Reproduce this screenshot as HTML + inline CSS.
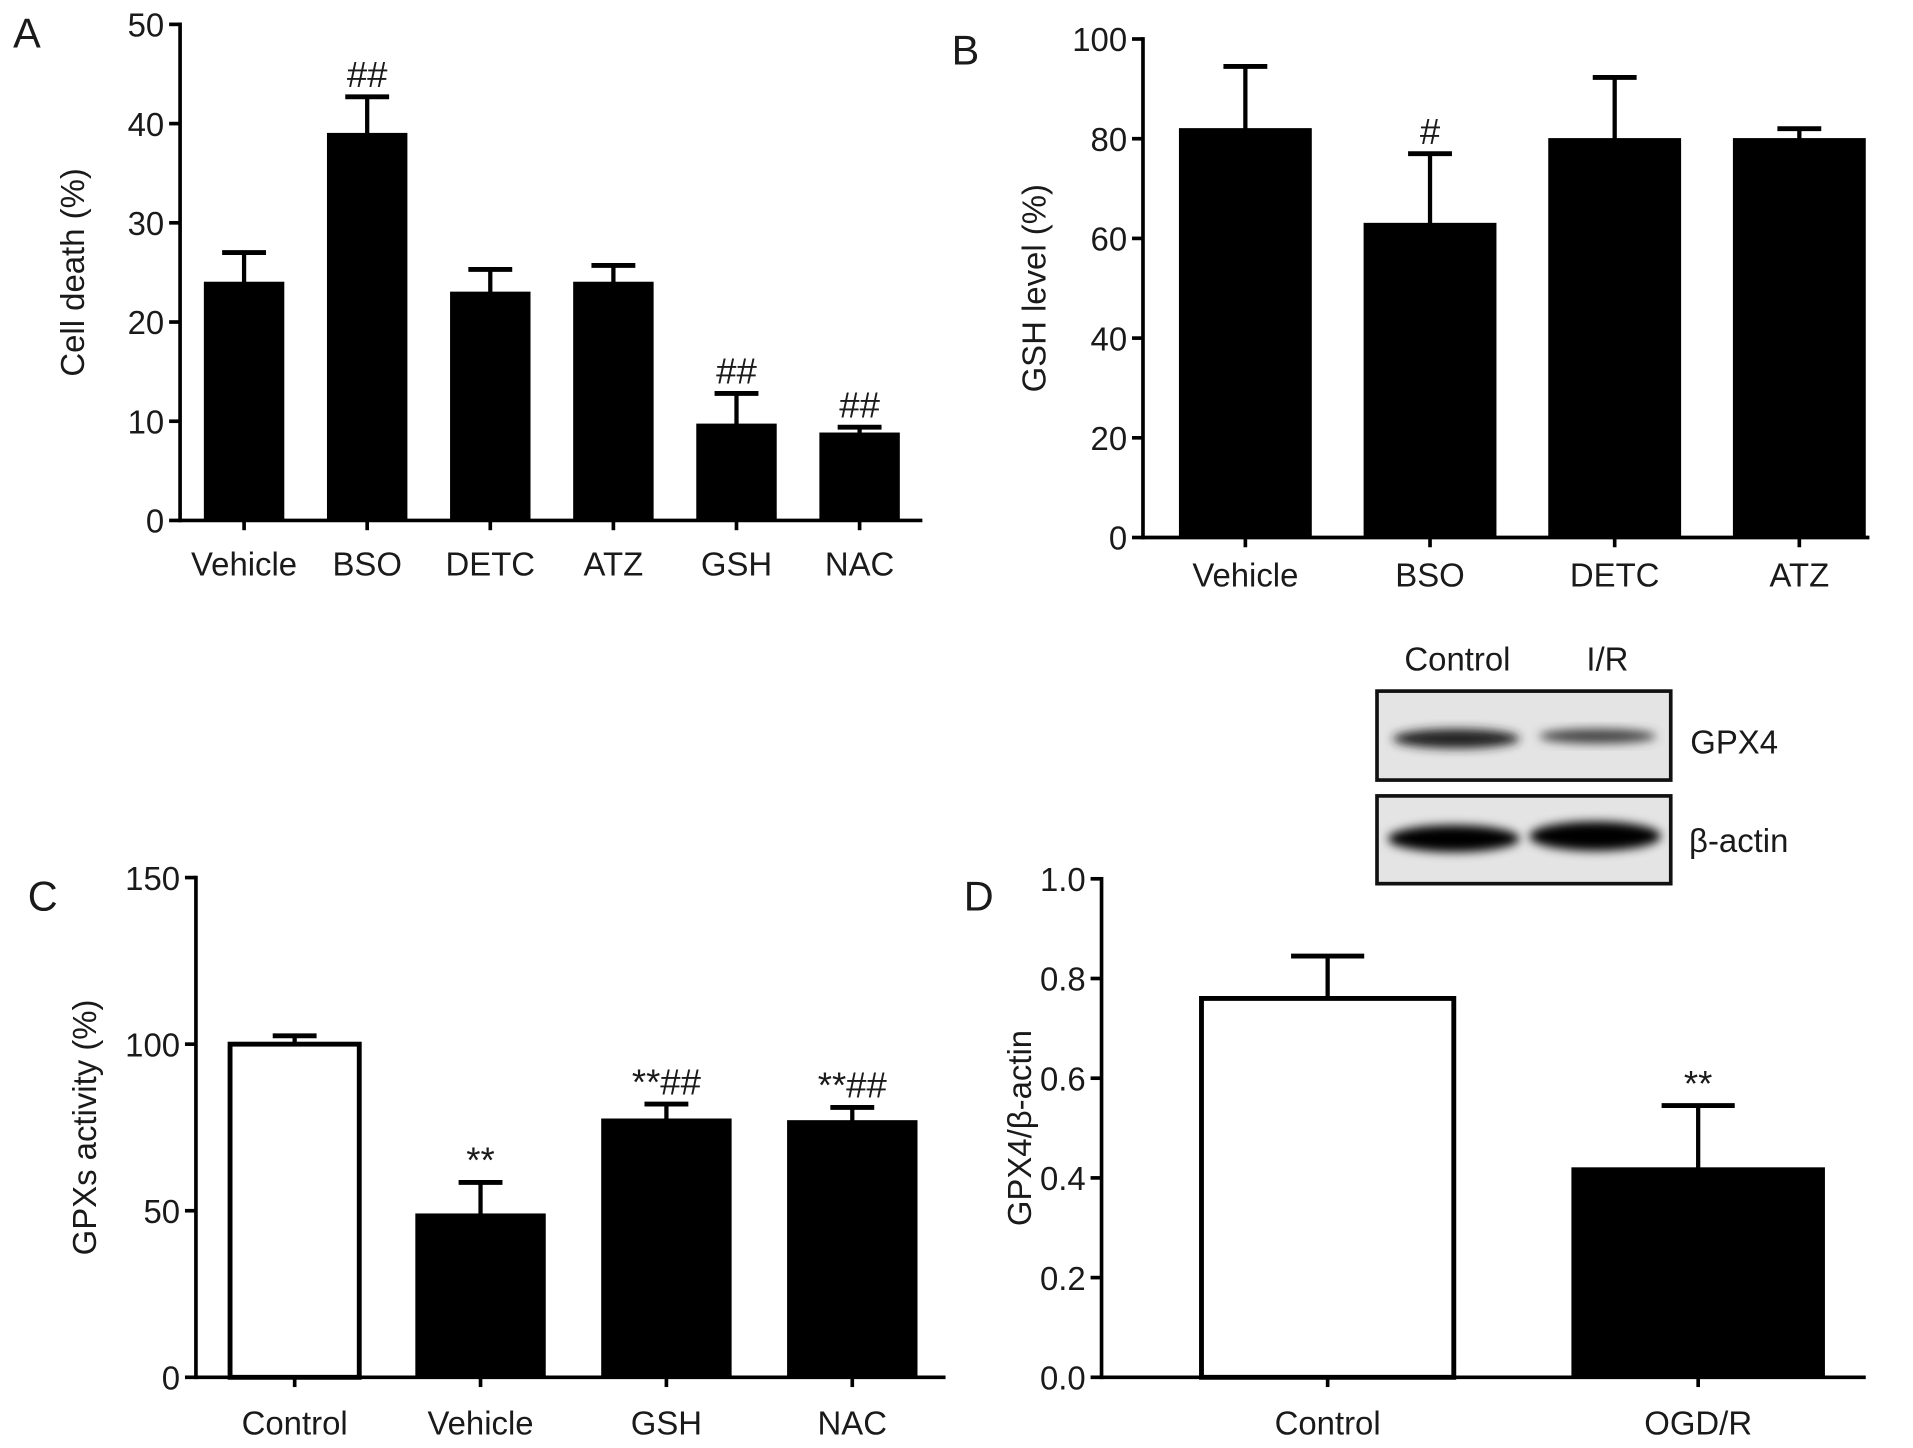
<!DOCTYPE html>
<html><head><meta charset="utf-8"><style>
html,body{margin:0;padding:0;background:#fff}
svg{display:block}
text{font-family:"Liberation Sans",sans-serif;fill:#1a1a1a}
</style></head><body>
<svg id="fig" width="1913" height="1448" viewBox="0 0 1568 1188" xmlns="http://www.w3.org/2000/svg">
<defs>
<filter id="blur" x="-20%" y="-50%" width="140%" height="200%"><feGaussianBlur stdDeviation="4"/></filter>
</defs>
<g>
<text x="1195" y="550" font-size="27" text-anchor="middle">Control</text>
<text x="1318" y="550" font-size="27" text-anchor="middle">I/R</text>
<rect x="1129" y="567" width="241" height="73" fill="#e4e4e4" stroke="#111" stroke-width="3"/>
<ellipse cx="1194" cy="606" rx="52" ry="8" fill="#222" filter="url(#blur)"/>
<ellipse cx="1310" cy="604" rx="48" ry="6" fill="#444" filter="url(#blur)"/>
<rect x="1129" y="653" width="241" height="72" fill="#e4e4e4" stroke="#111" stroke-width="3"/>
<ellipse cx="1192" cy="688" rx="54" ry="11" fill="#000" filter="url(#blur)"/>
<ellipse cx="1308" cy="686" rx="54" ry="12" fill="#000" filter="url(#blur)"/>
<text x="1386" y="618" font-size="27">GPX4</text>
<text x="1385" y="699" font-size="27">β-actin</text>
</g>
</svg>
<script>
// Panel A
const catsA = ["Vehicle","BSO","DETC","ATZ","GSH","NAC"];
const valsA = [24,39,23,24,9.7,8.8];
const errA = [27,42.7,25.3,25.7,12.8,9.4];
const markA = ["","##","","","##","##"];
const ticksA = [0,10,20,30,40,50];
// Panel B
const catsB = ["Vehicle","BSO","DETC","ATZ"];
const valsB = [82,63,80,80];
const errB = [94.5,77,92.3,82];
const markB = ["","#","",""];
const ticksB = [0,20,40,60,80,100];
// Panel C
const catsC = ["Control","Vehicle","GSH","NAC"];
const valsC = [100,49,77.5,77];
const errC = [102.5,58.5,82,81];
const markC = ["","**","**##","**##"];
const ticksC = [0,50,100,150];
// Panel D
const catsD = ["Control","OGD/R"];
const valsD = [0.76,0.42];
const errD = [0.845,0.545];
const markD = ["","**"];
const ticksD = [0,0.2,0.4,0.6,0.8,1.0];

const NS="http://www.w3.org/2000/svg";
const svg=document.getElementById('fig');
function mk(tag,attrs,parent){const e=document.createElementNS(NS,tag);for(const k in attrs)e.setAttribute(k,attrs[k]);(parent||svg).appendChild(e);return e;}

function panel(p){
  const g=mk('g',{});
  
  
  const y=v=>p.y0-(v-p.min)/(p.max-p.min)*(p.y0-p.y1);
  const x=i=>p.barL+i*p.step;
  p.cats.forEach((c,i)=>{
    const xl=x(i), top=y(p.vals[i]), ey=y(p.errs[i]), cx=xl+p.bw/2;
    const eb=mk('line',{x1:cx,x2:cx,y1:top,y2:ey,stroke:'#000','stroke-width':3.5},g);
    
    
    const cap=mk('line',{x1:cx-p.cap,x2:cx+p.cap,y1:ey,y2:ey,stroke:'#000','stroke-width':4},g);
    
    
    const white=p.white&&p.white[i];
    const r=mk('rect',{x:xl,y:top,width:p.bw,height:p.y0-top,fill:white?'#fff':'#000',stroke:'#000','stroke-width':white?4:1},g);
    
    
    const t=mk('text',{x:cx,y:p.labY,'font-size':27,'text-anchor':'middle'},g);t.textContent=c;
    
    
    const tk=mk('line',{x1:cx,x2:cx,y1:p.y0,y2:p.y0+8,stroke:'#000','stroke-width':3},g);
    
    
    if(p.marks[i]){
      const m=mk('text',{x:cx+(p.markDx||0),y:ey-8,'font-size':p.markSize||30,'text-anchor':'middle','font-family':'Liberation Serif, serif'},g);m.textContent=p.marks[i];
      
      
    }
  });
  const ya=mk('line',{x1:p.ax,x2:p.ax,y1:p.y1-1.5,y2:p.y0+1.5,stroke:'#000','stroke-width':3},g);
  
  
  const xa=mk('line',{x1:p.ax,x2:p.xEnd,y1:p.y0,y2:p.y0,stroke:'#000','stroke-width':3},g);
  
  
  p.ticks.forEach(v=>{
    const tl=mk('line',{x1:p.ax-9,x2:p.ax,y1:y(v),y2:y(v),stroke:'#000','stroke-width':3},g);
    
    
    const t=mk('text',{x:p.ax-13,y:y(v)+10,'font-size':27,'text-anchor':'end'},g);t.textContent=p.fmt?p.fmt(v):v;
    
    
  });
  const yt=mk('text',{x:0,y:0,'font-size':27,'text-anchor':'middle',transform:`translate(${p.titleX},${(p.y0+p.y1)/2}) rotate(-90)`},g);yt.textContent=p.title;
  
  
  const pl=mk('text',{x:p.letterX,y:p.letterY,'font-size':34},g);pl.textContent=p.id;
  
  
}
panel({id:'A',cats:catsA,vals:valsA,errs:errA,marks:markA,ticks:ticksA,min:0,max:50,ax:147,y0:427,y1:20,xEnd:756,barL:167,step:101,bw:65,cap:18,labY:472,title:'Cell death (%)',titleX:68,letterX:10,letterY:39});
panel({id:'B',cats:catsB,vals:valsB,errs:errB,marks:markB,ticks:ticksB,min:0,max:100,ax:937,y0:441,y1:32,xEnd:1533,barL:967,step:151.5,bw:108,cap:18,labY:481,title:'GSH level (%)',titleX:857,letterX:780,letterY:53});
panel({id:'C',cats:catsC,vals:valsC,errs:errC,marks:markC,ticks:ticksC,min:0,max:150,ax:160,y0:1130,y1:720,xEnd:775,barL:188,step:152.5,bw:106,cap:18,labY:1177,title:'GPXs activity (%)',titleX:78,letterX:22,letterY:747,white:[true,false,false,false]});
panel({id:'D',cats:catsD,vals:valsD,errs:errD,marks:markD,ticks:ticksD,min:0,max:1,ax:903,y0:1130,y1:721,xEnd:1530,barL:985,step:304,bw:207,cap:30,labY:1177,title:'GPX4/β-actin',titleX:845,letterX:790,letterY:747,white:[true,false],fmt:v=>v.toFixed(1)});
</script>
</body></html>
